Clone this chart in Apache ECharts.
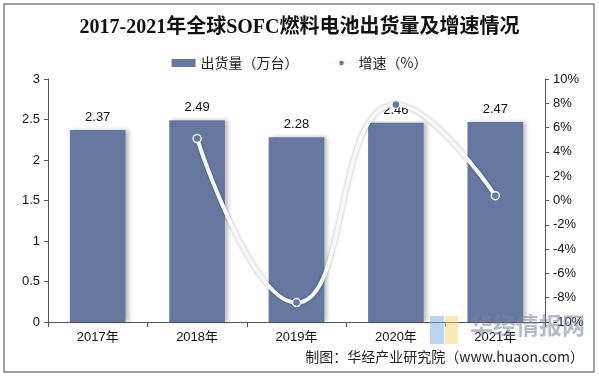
<!DOCTYPE html>
<html>
<head>
<meta charset="utf-8">
<script src="https://cdn.jsdelivr.net/npm/echarts@6/dist/echarts.min.js"></script>
<style>
  html, body { margin: 0; padding: 0; background: #fff; }
  #main { width: 599px; height: 377px; }
</style>
</head>
<body>
<div id="main"></div>
<script>
// 数据
var years = ['2017年', '2018年', '2019年', '2020年', '2021年'];
var shipments = [2.37, 2.49, 2.28, 2.46, 2.47];      // 出货量（万台）
var growth = [null, 5.1, -8.4, 7.9, 0.4];            // 增速（%）

var chart = echarts.init(document.getElementById('main'));

var option = {
  backgroundColor: '#fff',
  animation: false,
  title: {
    text: '2017-2021年全球SOFC燃料电池出货量及增速情况',
    left: 'center',
    top: 13,
    textStyle: {
      fontFamily: 'Liberation Serif, Noto Sans CJK SC',
      fontSize: 20,
      fontWeight: 'bold',
      color: '#111'
    }
  },
  legend: {
    top: 51,
    left: 'center',
    itemGap: 30,
    textStyle: { fontSize: 14, color: '#222', fontFamily: 'Noto Sans CJK SC' },
    data: [
      { name: '出货量（万台）', icon: 'rect', itemStyle: { color: '#6677a0' } },
      { name: '增速（%）' }
    ],
    itemWidth: 24,
    itemHeight: 8
  },
  grid: { left: 48, right: 54, top: 79, bottom: 55 },
  xAxis: {
    type: 'category',
    data: years,
    axisLine: { lineStyle: { color: '#555' } },
    axisTick: { show: true, lineStyle: { color: '#555' } },
    axisLabel: { color: '#111', fontSize: 13, margin: 9, fontFamily: 'Liberation Sans, Noto Sans CJK SC' }
  },
  yAxis: [
    {
      type: 'value',
      min: 0, max: 3, interval: 0.5,
      splitLine: { show: false },
      axisLine: { show: true, lineStyle: { color: '#555' } },
      axisTick: { show: true, length: 4, lineStyle: { color: '#555' } },
      axisLabel: { color: '#111', fontSize: 13, fontFamily: 'Liberation Sans' }
    },
    {
      type: 'value',
      min: -10, max: 10, interval: 2,
      position: 'right',
      splitLine: { show: false },
      axisLine: { show: true, lineStyle: { color: '#555' } },
      axisTick: { show: true, length: 4, lineStyle: { color: '#555' } },
      axisLabel: { color: '#111', fontSize: 13, formatter: '{value}%', fontFamily: 'Liberation Sans' }
    }
  ],
  series: [
    {
      name: '出货量（万台）',
      type: 'bar',
      data: shipments,
      barWidth: '56%',
      itemStyle: {
        color: '#6677a0',
        shadowColor: 'rgba(0,0,0,0.25)',
        shadowBlur: 4,
        shadowOffsetX: 3
      },
      label: {
        show: true,
        position: 'top',
        distance: 6,
        color: '#111',
        fontSize: 13,
        fontFamily: 'Liberation Sans'
      }
    },
    {
      name: '增速（%）',
      type: 'line',
      yAxisIndex: 1,
      data: growth,
      smooth: true,
      symbol: 'circle',
      symbolSize: 8,
      lineStyle: {
        color: '#f7f8fa',
        width: 4,
        shadowColor: 'rgba(0,0,0,0.3)',
        shadowBlur: 3
      },
      itemStyle: {
        color: '#6677a0',
        borderColor: '#f4f5f7',
        borderWidth: 1.5
      }
    }
  ],
  graphic: [
    {
      type: 'rect',
      shape: { x: 4, y: 4, width: 590, height: 368 },
      style: { fill: 'none', stroke: '#444', lineWidth: 1 },
      silent: true
    },
    {
      type: 'rect',
      shape: { x: 430, y: 316, width: 14, height: 28 },
      style: { fill: 'rgba(120,170,230,0.5)' },
      z: 100, silent: true
    },
    {
      type: 'rect',
      shape: { x: 445, y: 316, width: 13, height: 28 },
      style: { fill: 'rgba(245,215,110,0.5)' },
      z: 100, silent: true
    },
    {
      type: 'text',
      left: 470, top: 314,
      style: {
        text: '华经情报网',
        fill: 'rgba(120,130,160,0.55)',
        font: 'bold 23px "Noto Sans CJK SC"'
      },
      z: 100, silent: true
    },
    {
      type: 'text',
      right: 15, top: 350,
      style: {
        text: '制图：华经产业研究院（www.huaon.com）',
        fill: '#222',
        font: '14px "Noto Sans CJK SC"'
      },
      z: 101, silent: true
    }
  ]
};

chart.setOption(option);
</script>
</body>
</html>
